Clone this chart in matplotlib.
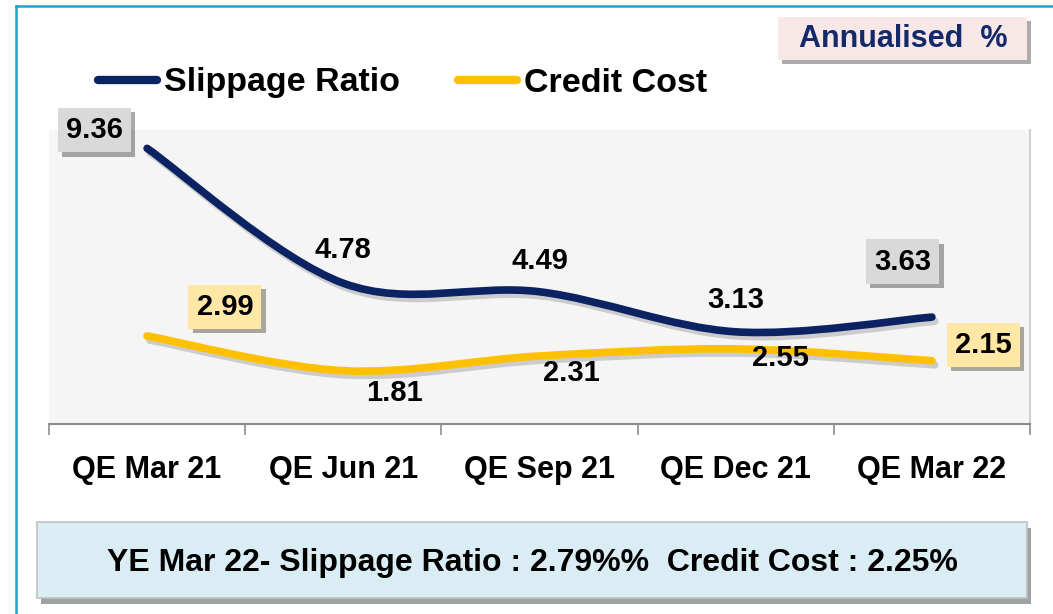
import matplotlib
matplotlib.use("Agg")
import matplotlib.pyplot as plt
import matplotlib.patheffects as pe
from matplotlib.path import Path
from matplotlib.patches import PathPatch, Rectangle
from matplotlib.lines import Line2D

plt.rcParams['font.family'] = ['Liberation Sans', 'DejaVu Sans']
plt.rcParams['font.weight'] = 'bold'

# data
quarters = ["QE Mar 21", "QE Jun 21", "QE Sep 21", "QE Dec 21", "QE Mar 22"]
slippage = [9.36, 4.78, 4.49, 3.13, 3.63]
credit_cost = [2.99, 1.81, 2.31, 2.55, 2.15]

NAVY = "#0B2263"
GOLD = "#FFC000"

# label offsets (points) and which labels get a box
slip_off = [(-38, 13), (0, 24), (0, 22), (0, 23), (-21, 40)]
slip_box = [True, False, False, False, True]
cc_off = [(56, 21), (37, -16), (23, -12), (32, -6.5), (37, 11.5)]
cc_box = [True, False, False, False, True]


def smooth_path(xs, ys):
    # excel style smoothed line: cubic bezier with control points from neighbours
    n = len(xs)
    verts = [(xs[0], ys[0])]
    codes = [Path.MOVETO]
    for i in range(n - 1):
        p0 = (xs[max(i - 1, 0)], ys[max(i - 1, 0)])
        p1 = (xs[i], ys[i])
        p2 = (xs[i + 1], ys[i + 1])
        p3 = (xs[min(i + 2, n - 1)], ys[min(i + 2, n - 1)])
        c1 = (p1[0] + (p2[0] - p0[0]) / 6, p1[1] + (p2[1] - p0[1]) / 6)
        c2 = (p2[0] - (p3[0] - p1[0]) / 6, p2[1] - (p3[1] - p1[1]) / 6)
        verts += [c1, c2, p2]
        codes += [Path.CURVE4] * 3
    return Path(verts, codes)


W, H = 1053, 614
fig = plt.figure(figsize=(W / 100, H / 100), dpi=100)
ax = fig.add_axes([49 / W, 1 - 424 / H, 981 / W, 294.5 / H])
ax.set_facecolor("#F5F5F5")

x = list(range(len(quarters)))
shadow = [pe.SimpleLineShadow(offset=(2, -3), alpha=0.35, shadow_color="gray"), pe.Normal()]
for vals, col in [(slippage, NAVY), (credit_cost, GOLD)]:
    patch = PathPatch(smooth_path(x, vals), facecolor="none", edgecolor=col,
                      lw=5.5, capstyle="round", joinstyle="round", zorder=3)
    patch.set_path_effects(shadow)
    ax.add_patch(patch)

box_shadow = [pe.SimplePatchShadow(offset=(3, -3), alpha=0.45), pe.Normal()]


def put_labels(vals, offs, boxes, boxcol):
    for i, v in enumerate(vals):
        t = ax.annotate(f"{v:.2f}", (i, v), xytext=offs[i], textcoords="offset points",
                        ha="center", va="center", fontsize=21, fontweight="bold",
                        color="black", zorder=5)
        if boxes[i]:
            t.set_bbox(dict(boxstyle="square,pad=0.28", facecolor=boxcol, edgecolor="none"))
            t.get_bbox_patch().set_path_effects(box_shadow)


put_labels(slippage, slip_off, slip_box, "#D9D9D9")
put_labels(credit_cost, cc_off, cc_box, "#FFE8A6")

ax.set_xlim(-0.5, len(quarters) - 0.5)
ax.set_ylim(0, 10)
ax.set_yticks([])
ax.set_xticks(x)
ax.set_xticklabels(quarters, fontsize=22, fontweight="bold")
ax.tick_params(axis="x", which="major", length=0, pad=22.5)
ax.set_xticks([i - 0.5 for i in range(len(quarters) + 1)], minor=True)
ax.tick_params(axis="x", which="minor", length=8, width=1.2, color="#8C8C8C", direction="out")
for s in ["top", "left"]:
    ax.spines[s].set_visible(False)
ax.spines["right"].set_color("#D0D0D0")
ax.spines["right"].set_linewidth(1.5)
ax.spines["bottom"].set_color("#8C8C8C")
ax.spines["bottom"].set_linewidth(1.5)

# legend
handles = [Line2D([], [], color=NAVY, lw=6, solid_capstyle="round"),
           Line2D([], [], color=GOLD, lw=6, solid_capstyle="round")]
fig.legend(handles, ["Slippage Ratio", "Credit Cost"], loc="center left",
           bbox_to_anchor=(84 / W, 1 - 83 / H), ncol=2, frameon=False,
           prop=dict(size=24.5, weight="bold"), handlelength=1.75, handletextpad=0.2,
           columnspacing=1.7, borderaxespad=0)

# outer border (left + top visible)
fig.add_artist(Line2D([15.5 / W, 15.5 / W], [0, 1 - 6 / H], color="#1FA3CE", lw=1.8))
fig.add_artist(Line2D([15.5 / W, 1], [1 - 6 / H, 1 - 6 / H], color="#1FA3CE", lw=1.8))

# annualised tag
tag = Rectangle((778 / W, 1 - 60 / H), 249 / W, 43 / H, transform=fig.transFigure,
                facecolor="#F8E7E7", edgecolor="none")
tag.set_path_effects(box_shadow)
fig.add_artist(tag)
fig.text(903 / W, 1 - 39 / H, "Annualised  %", ha="center", va="center",
         fontsize=22, fontweight="bold", color="#14296B")

# bottom summary box
summ = Rectangle((37 / W, 1 - 598 / H), 990 / W, 76 / H, transform=fig.transFigure,
                 facecolor="#DAEDF4", edgecolor="#C0C0C0", lw=1.2)
summ.set_path_effects([pe.SimplePatchShadow(offset=(3, -4), alpha=0.5), pe.Normal()])
fig.add_artist(summ)
fig.text(532 / W, 1 - 563 / H, "YE Mar 22- Slippage Ratio : 2.79%%  Credit Cost : 2.25%",
         ha="center", va="center", fontsize=23, fontweight="bold", color="black")

fig.savefig("out.png", dpi=100, facecolor="white")
